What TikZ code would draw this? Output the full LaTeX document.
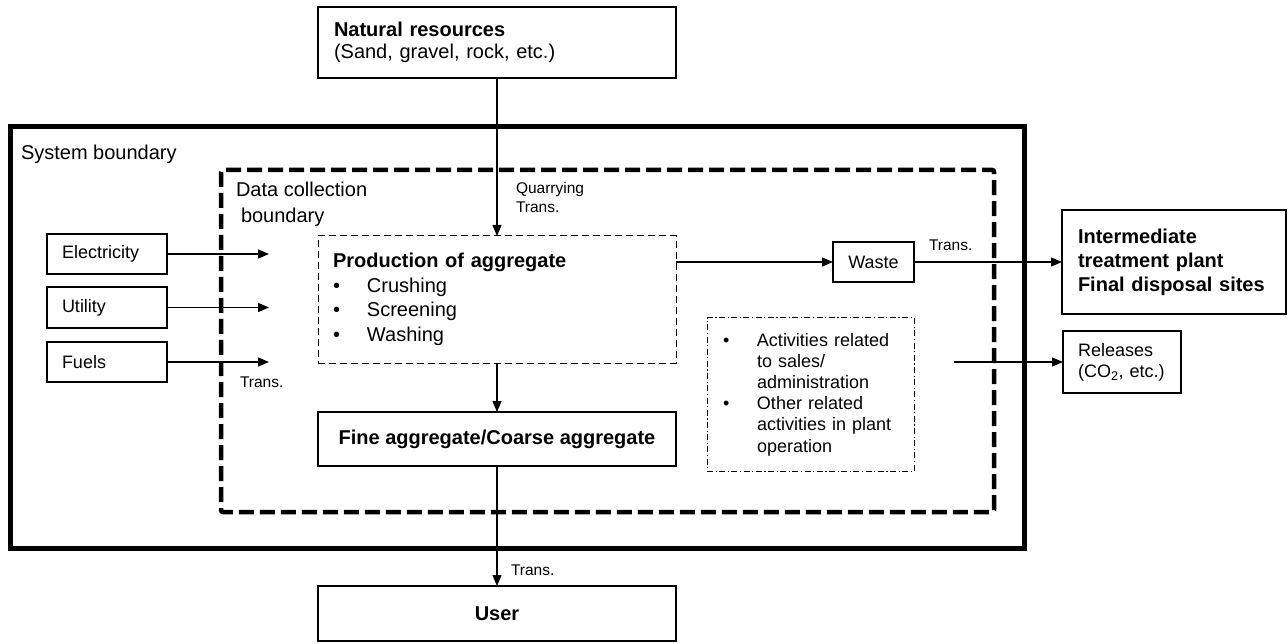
\documentclass[tikz,border=0pt]{standalone}
\usepackage{fontspec}
\setmainfont{Liberation Sans}
\usetikzlibrary{arrows.meta}
\begin{document}
\begin{tikzpicture}[x=1pt,y=-1pt,
  every node/.style={inner sep=0pt, outer sep=0pt},
  box/.style={draw, line width=1.3pt},
  lbox/.style={box, align=left, anchor=north west},
  cbox/.style={box, align=center, anchor=north west},
  arr/.style={line width=1.3pt, -{Triangle[length=11pt,width=9pt]}},
  big/.style={font=\fontsize{20}{24}\selectfont},
  mid/.style={font=\fontsize{18}{21}\selectfont},
  small/.style={font=\fontsize{15.5}{18}\selectfont},
  lab/.style={anchor=base west},
]
\useasboundingbox (0,0) rectangle (1288,644);
% boundaries
\draw[line width=5pt] (10,127) rectangle (1024,548);
\draw[line width=4.5pt, dash pattern=on 15pt off 6pt, rounded corners=2pt] (221,170) rectangle (994,512);
\node[big, lab] (sysl) at (21,160) {System boundary};
\node[big, lab] (dcl1) at (236,197) {Data collection};
\node[big, lab] (dcl2) at (241,223) {boundary};

% boxes
\node[lbox, font=\fontsize{20}{22}\selectfont, minimum width=358pt, minimum height=71pt, text width=326pt] (nr) at (318,7)
  {\textbf{Natural resources}\\(Sand, gravel, rock, etc.)};
\node[lbox, font=\fontsize{20}{24.5}\selectfont, dash pattern=on 7pt off 4pt, line width=1pt, minimum width=358pt, minimum height=127pt, text width=328pt] (prod) at (318,236)
  {\textbf{Production of aggregate}\\
   \makebox[34pt][l]{•}Crushing\\
   \makebox[34pt][l]{•}Screening\\
   \makebox[34pt][l]{•}Washing};
\node[cbox, big, minimum width=358pt, minimum height=54pt] (fine) at (318,412) {\textbf{Fine aggregate/Coarse aggregate}};
\node[cbox, big, minimum width=358pt, minimum height=55pt] (user) at (318,586) {\textbf{User}};

\node[lbox, mid, minimum width=120pt, minimum height=40pt, text width=90pt] (elec) at (47,234) {Electricity};
\node[lbox, mid, minimum width=120pt, minimum height=41pt, text width=90pt] (util) at (47,287) {Utility};
\node[lbox, mid, minimum width=120pt, minimum height=40pt, text width=90pt] (fuel) at (47,342) {Fuels};

\node[cbox, mid, minimum width=81pt, minimum height=40pt] (waste) at (833,242) {Waste};
\node[lbox, font=\fontsize{20}{24}\selectfont, minimum width=224pt, minimum height=104pt, text width=192pt] (inter) at (1062,210)
  {\textbf{\mbox{Intermediate}}\\\textbf{\mbox{treatment plant}}\\\textbf{\mbox{Final disposal sites}}};
\node[lbox, mid, minimum width=118pt, minimum height=62pt, text width=88pt] (rel) at (1063,331)
  {Releases\\\mbox{(CO\textsubscript{2}, etc.)}};
\node[lbox, font=\fontsize{18}{21.2}\selectfont, line width=1pt, dash pattern=on 6pt off 2.5pt on 1.2pt off 2.5pt, minimum width=207pt, minimum height=153pt, text width=175pt] (act) at (707,318)
  {\makebox[34pt][l]{•}Activities related\\
   \hspace*{34pt}to sales/\\
   \hspace*{34pt}administration\\
   \makebox[34pt][l]{•}Other related\\
   \hspace*{34pt}\mbox{activities in plant}\\
   \hspace*{34pt}operation};

% free ends
\coordinate (eE) at (269,254);
\coordinate (uE) at (269,307.5);
\coordinate (fE) at (269,362);
\coordinate (rS) at (954,362);

% connectors
\draw[arr] (nr.south) -- (prod.north);
\draw[arr] (prod.south) -- (fine.north);
\draw[arr] (fine.south) -- (user.north);
\draw[arr] (elec.east) -- (eE);
\draw[arr] (util.east) -- (uE);
\draw[arr] (fuel.east) -- (fE);
\draw[arr] (prod.east |- waste.west) -- (waste.west);
\draw[arr] (waste.east) -- (inter.west);
\draw[arr] (rS) -- (rel.west);

% small labels
\node[small, lab] (tq1) at (516,194) {Quarrying};
\node[small, lab] (tq2) at (516,212.5) {Trans.};
\node[small, lab] (tf) at (240,387.5) {Trans.};
\node[small, lab] (tw) at (929,250.5) {Trans.};
\node[small, lab] (tu) at (511,575.5) {Trans.};
\end{tikzpicture}
\end{document}
